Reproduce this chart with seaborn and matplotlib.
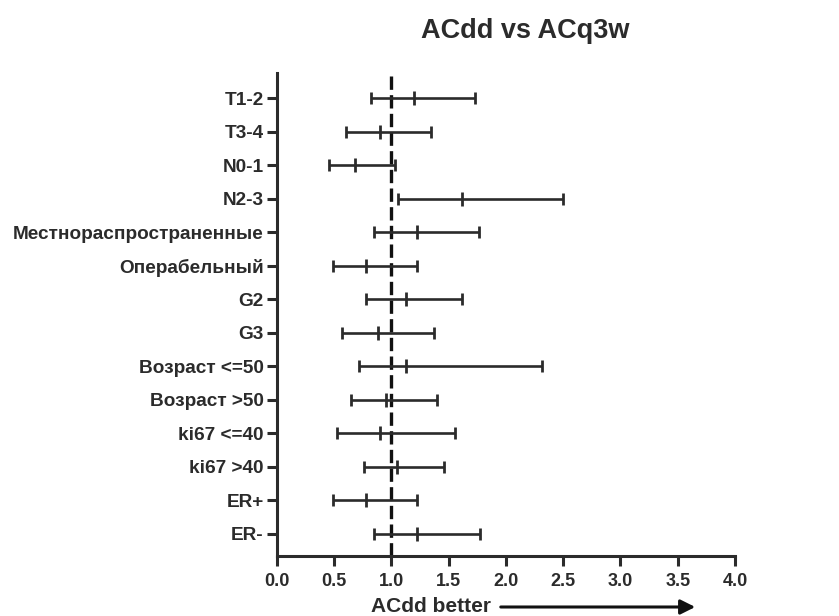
import matplotlib
matplotlib.use("Agg")
import matplotlib.pyplot as plt
import seaborn as sns
import numpy as np
import pandas as pd

# Subgroups, top to bottom
labels = ["T1-2", "T3-4", "N0-1", "N2-3", "Местнораспространенные", "Операбельный",
          "G2", "G3", "Возраст <=50", "Возраст >50", "ki67 <=40", "ki67 >40", "ER+", "ER-"]
hr = [1.195, 0.90, 0.685, 1.62, 1.22, 0.78, 1.125, 0.885, 1.13, 0.956, 0.90, 1.05, 0.78, 1.22]
lower = [0.82, 0.60, 0.455, 1.055, 0.85, 0.49, 0.78, 0.57, 0.72, 0.647, 0.525, 0.764, 0.49, 0.85]
upper = [1.73, 1.35, 1.03, 2.50, 1.765, 1.22, 1.62, 1.37, 2.315, 1.40, 1.555, 1.455, 1.22, 1.77]
xticks = [0.0, 0.5, 1.0, 1.5, 2.0, 2.5, 3.0, 3.5, 4.0]

df = pd.DataFrame({"label": labels, "hr": hr, "lower": lower, "upper": upper})
df["pos"] = np.arange(1, len(df) + 1)

sns.set_style("ticks")
plt.rcParams["font.family"] = ["Liberation Sans", "DejaVu Sans"]
plt.rcParams["font.weight"] = "bold"

ink = "#2b2b2b"

fig = plt.figure(figsize=(8.39, 6.16), dpi=100)
ax = fig.add_axes([0.330, 0.0974, 0.546, 0.7841])

# reference line
ax.axvline(1.0, color="#111111", lw=2.4, ls=(0, (4, 1.6)), zorder=1)

# confidence intervals
ax.errorbar(df["hr"], df["pos"],
            xerr=[df["hr"] - df["lower"], df["upper"] - df["hr"]],
            fmt="none", ecolor=ink, elinewidth=1.9, capsize=4.6, capthick=2.0, zorder=2)

# point estimates
sns.scatterplot(data=df, x="hr", y="pos", marker="|", s=110, linewidth=2.0,
                color=ink, ax=ax, zorder=3, legend=False)

ax.set_xlim(0, 4.0)
ax.set_ylim(14.66, 0.25)
ax.set_xticks(xticks)
ax.set_xticklabels([f"{t:.1f}" for t in xticks], fontsize=13, fontweight="bold", color=ink)
ax.set_yticks(df["pos"])
ax.set_yticklabels(df["label"], fontsize=13.7, fontweight="bold", color=ink)
ax.set_xlabel("")
ax.set_ylabel("")

sns.despine(ax=ax)
for s in ["left", "bottom"]:
    ax.spines[s].set_linewidth(2.2)
    ax.spines[s].set_color(ink)
ax.tick_params(axis="x", length=7.5, width=2.2, color=ink, pad=5)
ax.tick_params(axis="y", length=7.5, width=2.2, color=ink, pad=2)

# title, slightly right of the axes centre as in the original
fig.text(525 / 839, 1 - 31 / 616, "ACdd vs ACq3w", ha="center", va="center",
         fontsize=19.5, fontweight="bold", color=ink)

# x label with arrow
fig.text(431 / 839, 1 - 607 / 616, "ACdd better", ha="center", va="center",
         fontsize=15, fontweight="bold", color=ink)
fig.add_artist(matplotlib.patches.FancyArrowPatch(
    (498 / 839, 1 - 607 / 616), (698 / 839, 1 - 607 / 616), transform=fig.transFigure,
    arrowstyle="-|>", mutation_scale=22, lw=2.2, color="#111111"))

fig.savefig("out.png", dpi=100, facecolor="white")
